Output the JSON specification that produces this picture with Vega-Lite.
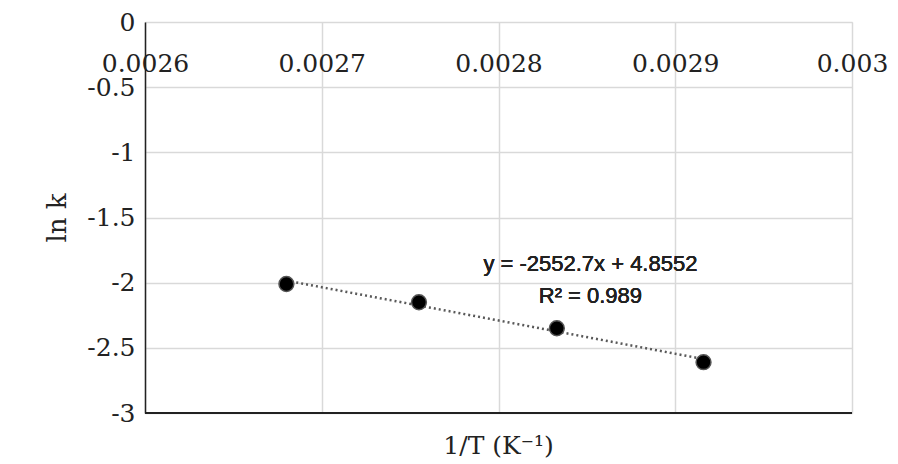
{
  "$schema": "https://vega.github.io/schema/vega-lite/v6.json",
  "autosize": "none",
  "width": 707,
  "height": 391,
  "padding": {"left": 145, "top": 22, "right": 46, "bottom": 51},
  "background": "white",
  "title": {"text": "1/T (K⁻¹)", "orient": "bottom", "font": "DejaVu Serif", "fontSize": 25, "fontWeight": "normal", "color": "#222", "offset": 8},
  "data": {"values": [
    {"invT": 0.00268, "lnk": -2.01},
    {"invT": 0.002755, "lnk": -2.15},
    {"invT": 0.002833, "lnk": -2.35},
    {"invT": 0.002916, "lnk": -2.61}
  ]},
  "layer": [
    {
      "transform": [{"regression": "lnk", "on": "invT", "extent": [0.00268, 0.002916]}],
      "mark": {"type": "line", "color": "#595959", "strokeDash": [2, 3], "strokeWidth": 2.5},
      "encoding": {
        "x": {"field": "invT", "type": "quantitative", "scale": {"domain": [0.0026, 0.003]},
          "axis": {"orient": "top", "title": null, "format": "~g", "values": [0.0026, 0.0027, 0.0028, 0.0029, 0.003], "labelFont": "DejaVu Serif", "labelFontSize": 25, "labelColor": "#222", "labelPadding": -54, "labelFlush": false, "labelOverlap": false, "labelBound": false, "domain": false, "ticks": false, "gridColor": "#d9d9d9", "gridWidth": 1.5}},
        "y": {"field": "lnk", "type": "quantitative", "scale": {"domain": [-3, 0]},
          "axis": {"title": "ln k", "titleFont": "DejaVu Serif", "titleFontSize": 26, "titleFontWeight": "normal", "titleColor": "#222", "titlePadding": 16, "values": [-3, -2.5, -2, -1.5, -1, -0.5, 0], "format": "~g", "labelExpr": "replace(datum.label, '−', '-')", "labelFont": "DejaVu Serif", "labelFontSize": 25, "labelColor": "#222", "labelPadding": 10, "domainColor": "#222", "domainWidth": 1.5, "ticks": false, "gridColor": "#d9d9d9", "gridWidth": 1.5}}
      }
    },
    {
      "mark": {"type": "point", "filled": true, "size": 220, "color": "#000", "stroke": "#555", "strokeWidth": 1.5, "opacity": 1},
      "encoding": {
        "x": {"field": "invT", "type": "quantitative"},
        "y": {"field": "lnk", "type": "quantitative"}
      }
    },
    {
      "mark": {"type": "rule", "color": "#222", "strokeWidth": 1.5},
      "encoding": {"y": {"datum": -3}}
    },
    {
      "mark": {"type": "text", "font": "Liberation Sans", "fontSize": 22, "fontWeight": "normal", "color": "#222"},
      "encoding": {
        "x": {"datum": 0.002852},
        "y": {"datum": -1.86},
        "text": {"value": "y = -2552.7x + 4.8552"}
      }
    },
    {
      "mark": {"type": "text", "font": "Liberation Sans", "fontSize": 22, "fontWeight": "normal", "color": "#222"},
      "encoding": {
        "x": {"datum": 0.002852},
        "y": {"datum": -2.1},
        "text": {"value": "R² = 0.989"}
      }
    }
  ]
}
